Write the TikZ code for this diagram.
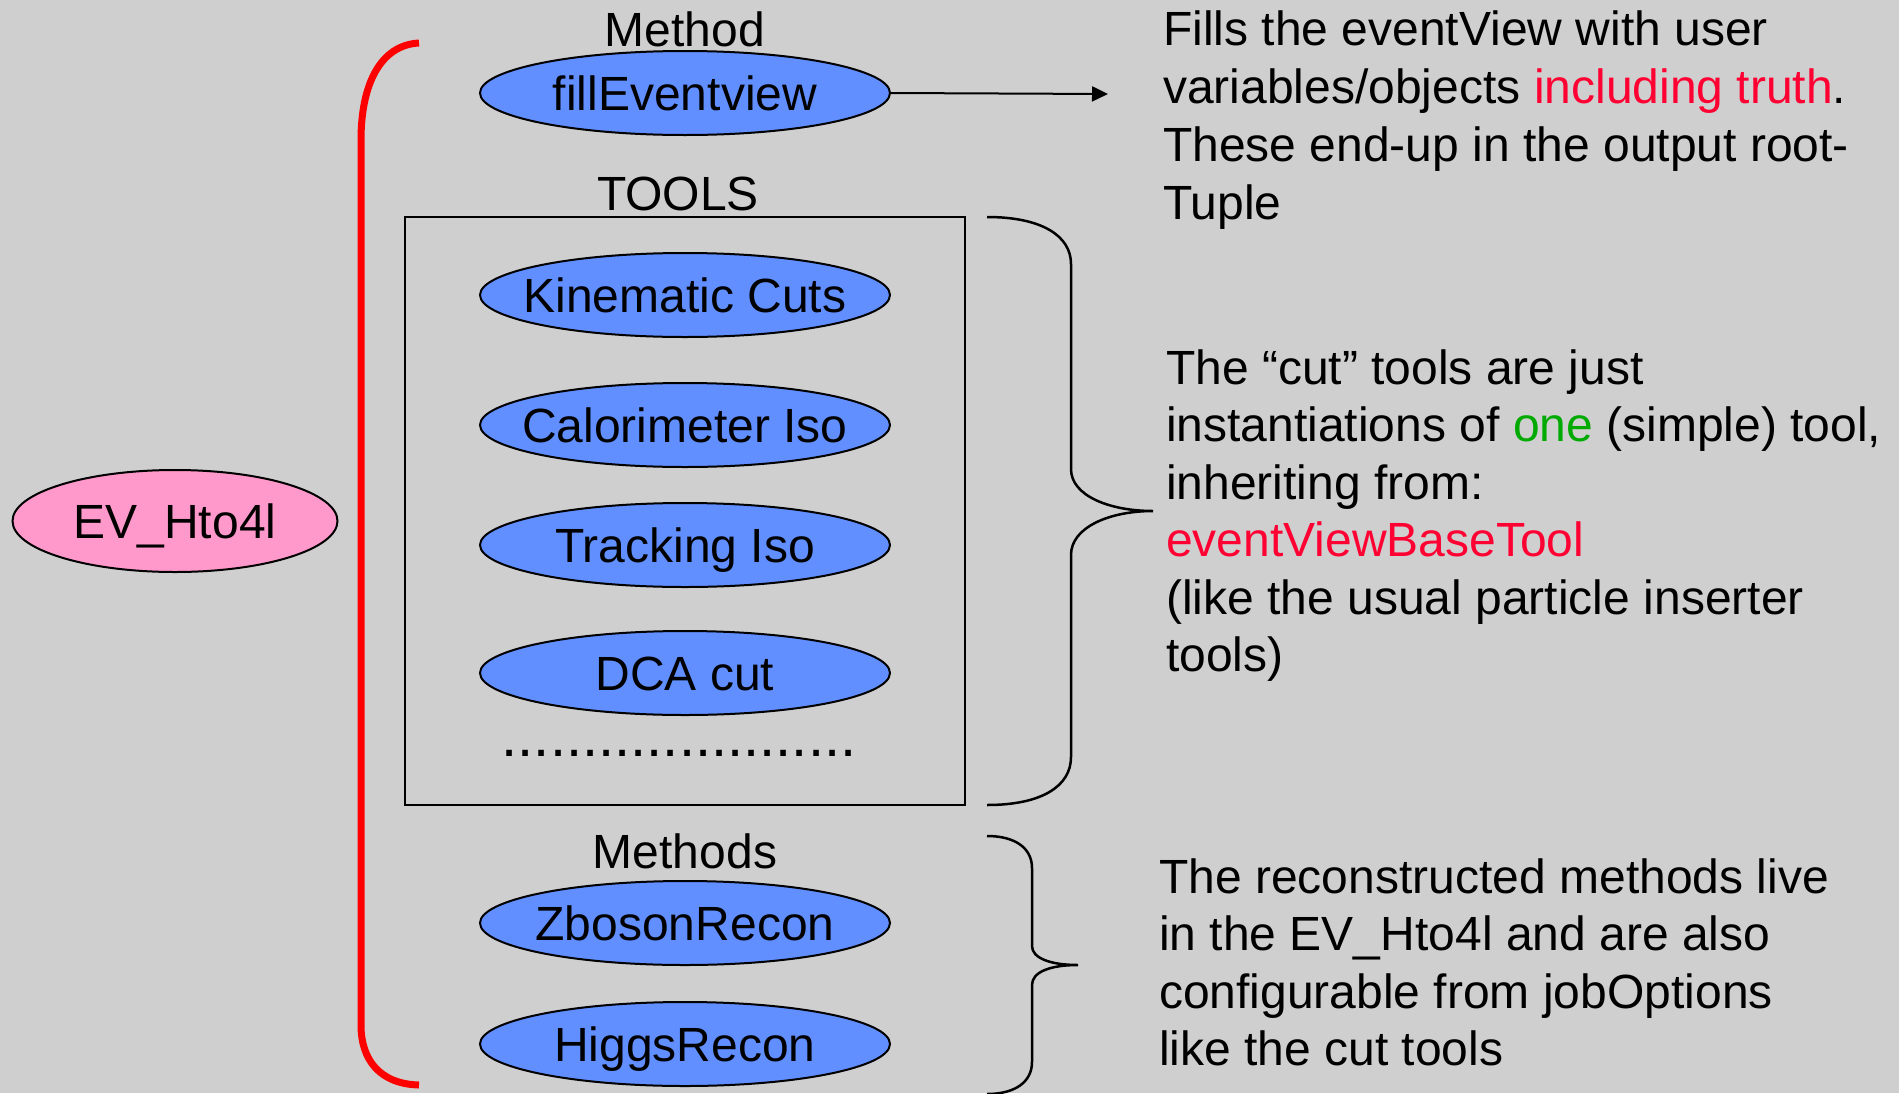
\documentclass[tikz,border=0pt]{standalone}
\usepackage{fontspec}
\setmainfont{Liberation Sans}
\usetikzlibrary{shapes.geometric,arrows.meta}
\definecolor{bg}{HTML}{CFCFCF}
\definecolor{evblue}{HTML}{618FFF}
\definecolor{evpink}{HTML}{FF99CC}
\definecolor{txtred}{HTML}{FF0033}
\definecolor{txtgreen}{HTML}{00AA00}
\newcommand{\zw}[1]{\makebox[0pt]{#1}}
\tikzset{
  big/.style={font=\fontsize{48}{58}\selectfont},
  ellbase/.style={ellipse, draw=black, line width=2pt, inner sep=0pt, text height=34.5pt, text depth=0pt, big},
  blueell/.style={ellbase, fill=evblue, minimum width=410pt, minimum height=84pt},
  pinkell/.style={ellbase, fill=evpink, minimum width=325pt, minimum height=102pt},
  lbl/.style={inner sep=0pt, big},
  ln/.style={anchor=base west, inner sep=0pt, big},
  bracepath/.style={draw=black, line width=2.5pt},
}
\begin{document}
\begin{tikzpicture}[x=1pt,y=-1pt]
\fill[bg] (0,0) rectangle (1899,1093);
\useasboundingbox (0,0) rectangle (1899,1093);

% red bracket
\draw[red, line width=7pt] (419,43) .. controls (380,45) and (361,85) .. (361,140) -- (361,1025) .. controls (361,1060) and (380,1084) .. (419,1085);

% left ellipse
\node[pinkell] (ev) at (175,521) {\zw{EV\_Hto4l}};

% Method
\node[lbl] (method) at (685,29) {Method};
\node[blueell] (fill) at (685,93) {\zw{fillEventview}};
\coordinate (arrend) at (1108,94);
\draw[line width=2pt, -{Triangle[length=16pt,width=15pt]}] (fill.east) -- (arrend);

% Tools
\node[lbl] (tools) at (678,194) {TOOLS};
\node[draw=black, line width=2pt, minimum width=560pt, minimum height=588pt, inner sep=0pt] (box) at (685,511) {};
\node[blueell] (kin) at (685,295) {\zw{Kinematic Cuts}};
\node[blueell] (calo) at (685,425) {\zw{Calorimeter Iso}};
\node[blueell] (trk) at (685,545) {\zw{Tracking Iso}};
\node[blueell] (dca) at (685,673) {\zw{DCA cut}};
\node[inner sep=0pt, anchor=base, font=\fontsize{58}{60}\selectfont] (dots) at (679,756) {......................};

% Methods
\node[lbl] (methods) at (685,851) {Methods};
\node[blueell] (zb) at (685,923) {\zw{ZbosonRecon}};
\node[blueell] (hg) at (685,1044) {\zw{HiggsRecon}};

% braces
\coordinate (b1top) at (987,217);
\coordinate (b1mid) at (1153,511);
\coordinate (b1bot) at (987,805);
\draw[bracepath] (b1top) .. controls (1042,217) and (1071,236) .. (1071,264) -- (1071,469)
  .. controls (1071,496) and (1110,511) .. (b1mid)
  .. controls (1110,511) and (1071,527) .. (1071,555) -- (1071,757)
  .. controls (1071,786) and (1042,805) .. (b1bot);
\coordinate (b2top) at (987,836);
\coordinate (b2mid) at (1078,965);
\coordinate (b2bot) at (987,1094);
\draw[bracepath] (b2top) .. controls (1015,836) and (1032,848) .. (1032,868) -- (1032,946)
  .. controls (1032,958) and (1050,965) .. (b2mid)
  .. controls (1050,965) and (1032,972) .. (1032,985) -- (1032,1062)
  .. controls (1032,1082) and (1015,1094) .. (b2bot);

% text block 1
\node[ln] (t11) at (1163,45) {Fills the eventView with user};
\node[ln] (t12) at (1163,103) {variables/objects \textcolor{txtred}{including truth}.};
\node[ln] (t13) at (1163,161) {These end-up in the output root-};
\node[ln] (t14) at (1163,219) {Tuple};

% text block 2
\node[ln] (t21) at (1166,384) {The “cut” tools are just};
\node[ln] (t22) at (1166,441) {instantiations of \textcolor{txtgreen}{one} (simple) tool,};
\node[ln] (t23) at (1166,499) {inheriting from:};
\node[ln] (t24) at (1166,556) {\textcolor{txtred}{eventViewBaseTool}};
\node[ln] (t25) at (1166,614) {(like the usual particle inserter};
\node[ln] (t26) at (1166,671) {tools)};

% text block 3
\node[ln] (t31) at (1159,893) {The reconstructed methods live};
\node[ln] (t32) at (1159,950) {in the EV\_Hto4l and are also};
\node[ln] (t33) at (1159,1008) {configurable from jobOptions};
\node[ln] (t34) at (1159,1065) {like the cut tools};
\end{tikzpicture}
\end{document}
